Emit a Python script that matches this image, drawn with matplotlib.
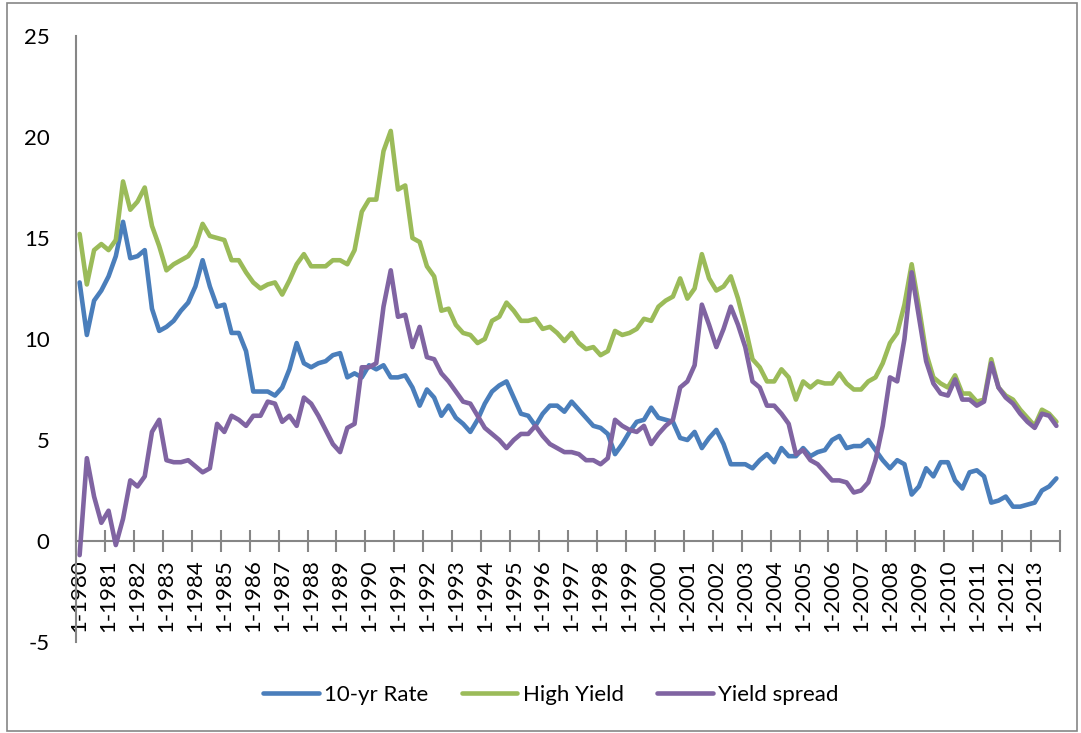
import matplotlib
matplotlib.use("Agg")
import matplotlib.pyplot as plt
from matplotlib.patches import Rectangle
import numpy as np

plt.rcParams["font.family"] = ["Lato", "DejaVu Sans"]
plt.rcParams["axes.unicode_minus"] = False

# Quarterly observations, 1980 Q1 .. 2013 Q4
years = list(range(1980, 2014))
year_labels = [f"1-{y}" for y in years]

ten_yr_rate = [
    12.8, 10.2, 11.9, 12.4, 13.1, 14.1, 15.8, 14.0, 14.1, 14.4, 11.5, 10.4,
    10.6, 10.9, 11.4, 11.8, 12.6, 13.9, 12.6, 11.6, 11.7, 10.3, 10.3, 9.4,
    7.4, 7.4, 7.4, 7.2, 7.6, 8.5, 9.8, 8.8, 8.6, 8.8, 8.9, 9.2,
    9.3, 8.1, 8.3, 8.1, 8.7, 8.5, 8.7, 8.1, 8.1, 8.2, 7.6, 6.7,
    7.5, 7.1, 6.2, 6.7, 6.1, 5.8, 5.4, 6.0, 6.8, 7.4, 7.7, 7.9,
    7.1, 6.3, 6.2, 5.7, 6.3, 6.7, 6.7, 6.4, 6.9, 6.5, 6.1, 5.7,
    5.6, 5.3, 4.3, 4.8, 5.4, 5.9, 6.0, 6.6, 6.1, 6.0, 5.9, 5.1,
    5.0, 5.4, 4.6, 5.1, 5.5, 4.8, 3.8, 3.8, 3.8, 3.6, 4.0, 4.3,
    3.9, 4.6, 4.2, 4.2, 4.6, 4.2, 4.4, 4.5, 5.0, 5.2, 4.6, 4.7,
    4.7, 5.0, 4.5, 4.0, 3.6, 4.0, 3.8, 2.3, 2.7, 3.6, 3.2, 3.9,
    3.9, 3.0, 2.6, 3.4, 3.5, 3.2, 1.9, 2.0, 2.2, 1.7, 1.7, 1.8,
    1.9, 2.5, 2.7, 3.1,
]

high_yield = [
    15.2, 12.7, 14.4, 14.7, 14.4, 14.9, 17.8, 16.4, 16.8, 17.5, 15.6, 14.6,
    13.4, 13.7, 13.9, 14.1, 14.6, 15.7, 15.1, 15.0, 14.9, 13.9, 13.9, 13.3,
    12.8, 12.5, 12.7, 12.8, 12.2, 12.9, 13.7, 14.2, 13.6, 13.6, 13.6, 13.9,
    13.9, 13.7, 14.4, 16.3, 16.9, 16.9, 19.3, 20.3, 17.4, 17.6, 15.0, 14.8,
    13.6, 13.1, 11.4, 11.5, 10.7, 10.3, 10.2, 9.8, 10.0, 10.9, 11.1, 11.8,
    11.4, 10.9, 10.9, 11.0, 10.5, 10.6, 10.3, 9.9, 10.3, 9.8, 9.5, 9.6,
    9.2, 9.4, 10.4, 10.2, 10.3, 10.5, 11.0, 10.9, 11.6, 11.9, 12.1, 13.0,
    12.0, 12.5, 14.2, 13.0, 12.4, 12.6, 13.1, 12.0, 10.6, 9.0, 8.6, 7.9,
    7.9, 8.5, 8.1, 7.0, 7.9, 7.6, 7.9, 7.8, 7.8, 8.3, 7.8, 7.5,
    7.5, 7.9, 8.1, 8.8, 9.8, 10.3, 11.7, 13.7, 11.6, 9.3, 8.1, 7.8,
    7.6, 8.2, 7.3, 7.3, 6.9, 7.0, 9.0, 7.6, 7.2, 7.0, 6.5, 6.1,
    5.7, 6.5, 6.3, 5.9,
]

yield_spread = [
    -0.7, 4.1, 2.2, 0.9, 1.5, -0.2, 1.1, 3.0, 2.7, 3.2, 5.4, 6.0,
    4.0, 3.9, 3.9, 4.0, 3.7, 3.4, 3.6, 5.8, 5.4, 6.2, 6.0, 5.7,
    6.2, 6.2, 6.9, 6.8, 5.9, 6.2, 5.7, 7.1, 6.8, 6.2, 5.5, 4.8,
    4.4, 5.6, 5.8, 8.6, 8.6, 8.8, 11.6, 13.4, 11.1, 11.2, 9.6, 10.6,
    9.1, 9.0, 8.3, 7.9, 7.4, 6.9, 6.8, 6.2, 5.6, 5.3, 5.0, 4.6,
    5.0, 5.3, 5.3, 5.7, 5.2, 4.8, 4.6, 4.4, 4.4, 4.3, 4.0, 4.0,
    3.8, 4.1, 6.0, 5.7, 5.5, 5.4, 5.7, 4.8, 5.3, 5.7, 6.0, 7.6,
    7.9, 8.7, 11.7, 10.7, 9.6, 10.5, 11.6, 10.7, 9.6, 7.9, 7.6, 6.7,
    6.7, 6.3, 5.8, 4.3, 4.5, 4.0, 3.8, 3.4, 3.0, 3.0, 2.9, 2.4,
    2.5, 2.9, 4.0, 5.7, 8.1, 7.9, 10.0, 13.3, 11.1, 8.9, 7.8, 7.3,
    7.2, 8.0, 7.0, 7.0, 6.7, 6.9, 8.8, 7.6, 7.1, 6.8, 6.3, 5.9,
    5.6, 6.3, 6.2, 5.7,
]

series_names = ["10-yr Rate", "High Yield", "Yield spread"]
series_colors = ["#4A7EBB", "#9BBB59", "#8064A2"]

W, H = 1081, 733
fig = plt.figure(figsize=(W / 100, H / 100), dpi=100)
ax = fig.add_axes([76 / W, 1 - 642 / H, (1060 - 76) / W, (642 - 36) / H])

n = len(ten_yr_rate)
x = np.arange(n) + 0.5  # category centres, axis crosses between categories

for vals, name, col, z in zip([ten_yr_rate, high_yield, yield_spread],
                              series_names, series_colors, [2, 3, 4]):
    ax.plot(x, vals, color=col, lw=3.3, label=name, zorder=z,
            solid_joinstyle="round", solid_capstyle="round")

ax.set_xlim(0, n)
ax.set_ylim(-5, 25)

axis_grey = "#868686"
for s in ["top", "right"]:
    ax.spines[s].set_visible(False)
ax.spines["left"].set_color(axis_grey)
ax.spines["left"].set_linewidth(1.5)
ax.spines["bottom"].set_position(("data", 0))
ax.spines["bottom"].set_color(axis_grey)
ax.spines["bottom"].set_linewidth(1.5)

# y axis
ax.set_yticks(np.arange(-5, 26, 5))
ax.set_yticklabels([str(v) for v in range(-5, 26, 5)])
ax.tick_params(axis="y", length=0, pad=19, labelsize=16, labelcolor="black")

# x axis: tick marks on year boundaries, labels on first quarter of each year
ax.set_xticks(np.arange(0, n + 1, 4))
ax.set_xticklabels([])
ax.tick_params(axis="x", which="major", direction="inout", length=16,
               width=1.5, color=axis_grey)
ax.set_xticks(np.arange(0, n, 4) + 0.5, minor=True)
ax.set_xticklabels(year_labels, minor=True, rotation=90, fontsize=16)
ax.tick_params(axis="x", which="minor", length=0, pad=13)

# legend
fig.legend(loc="center", bbox_to_anchor=(551 / W, 1 - 695 / H), ncol=3,
           frameon=False, fontsize=16, handlelength=2.5, handletextpad=0.25,
           columnspacing=1.5)

# chart area border
fig.patches.append(Rectangle((7 / W, 2 / H), (1077 - 7) / W, (730 - 2) / H,
                             transform=fig.transFigure, fill=False,
                             edgecolor=axis_grey, lw=1.2))

fig.savefig("out.png", dpi=100)
